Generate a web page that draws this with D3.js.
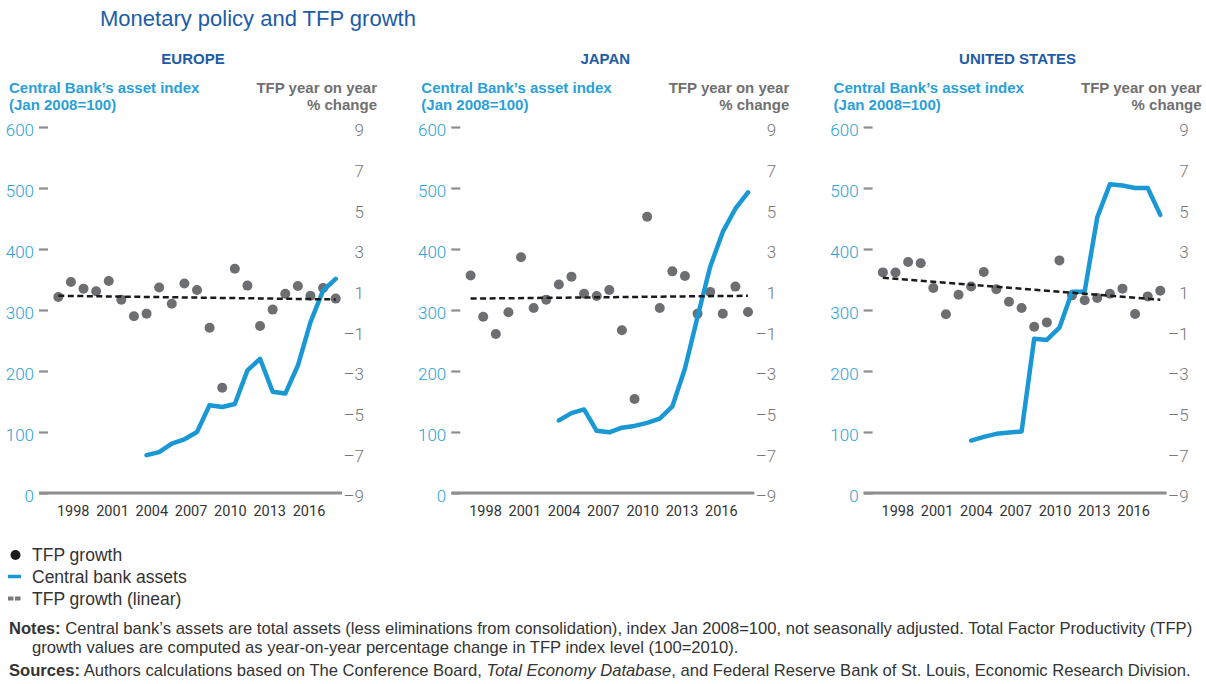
<!DOCTYPE html>
<html>
<head>
<meta charset="utf-8">
<script src="https://cdn.jsdelivr.net/npm/d3@7"></script>
<style>
  body { margin: 0; background: #fff; }
  svg { font-family: "Liberation Sans", Arial, sans-serif; }
</style>
</head>
<body>
<svg id="chart" width="1206" height="684"></svg>
<script>
// ---- data ----
const years = [1996, 1997, 1998, 1999, 2000, 2001, 2002, 2003, 2004, 2005, 2006, 2007,
               2008, 2009, 2010, 2011, 2012, 2013, 2014, 2015, 2016, 2017, 2018];
const assetYears = [2003, 2004, 2005, 2006, 2007, 2008, 2009, 2010,
                    2011, 2012, 2013, 2014, 2015, 2016, 2017, 2018];

const tfpEurope = [0.64, 1.38, 1.05, 0.92, 1.43, 0.51, -0.31, -0.18, 1.11, 0.31, 1.30, 0.98,
                   -0.87, -3.82, 2.03, 1.20, -0.79, 0.02, 0.80, 1.18, 0.70, 1.08, 0.56];
const tfpJapan = [1.70, -0.33, -1.18, -0.11, 2.59, 0.10, 0.51, 1.25, 1.64, 0.80, 0.69, 0.98,
                  -1.00, -4.38, 4.59, 0.10, 1.90, 1.67, -0.18, 0.89, -0.18, 1.15, -0.10];
const tfpUS = [1.85, 1.84, 2.36, 2.30, 1.08, -0.21, 0.75, 1.16, 1.87, 1.02, 0.41, 0.10,
               -0.82, -0.61, 2.44, 0.72, 0.48, 0.59, 0.80, 1.05, -0.20, 0.67, 0.95];

const assetsEurope = [62, 67, 81, 88, 100, 144, 141, 146, 201, 220, 166, 163, 209, 280, 332, 351];
const assetsJapan = [119, 131, 137, 102, 99.5, 107, 110, 115, 122, 142, 204, 289, 371, 428, 466, 493];
const assetsUS = [86, 92, 97, 99, 101, 253, 251, 271, 330, 330, 452, 506, 504, 500, 500, 456];

// linear trend, value at first and last year
const trendEurope = [0.70, 0.52];
const trendJapan = [0.56, 0.70];
const trendUS = [1.59, 0.51];

const regions = ['EUROPE', 'JAPAN', 'UNITED STATES'];
const leftTicks = [0, 100, 200, 300, 400, 500, 600];
const rightTicks = [-9, -7, -5, -3, -1, 1, 3, 5, 7, 9];
const yearTicks = [1998, 2001, 2004, 2007, 2010, 2013, 2016];

const panels = [
  { name: regions[0], tfp: tfpEurope, assets: assetsEurope, trend: trendEurope },
  { name: regions[1], tfp: tfpJapan, assets: assetsJapan, trend: trendJapan },
  { name: regions[2], tfp: tfpUS, assets: assetsUS, trend: trendUS }
];

// ---- colours ----
const darkBlue = '#1c5ca6';
const lightBlue = '#2a9fd8';
const lineBlue = '#1a98d4';
const dotGrey = '#6d6e71';
const axisGrey = '#8e8e8e';

const svg = d3.select('#chart');

// ---- scales (shared by all panels, each panel is translated) ----
const x = d3.scaleLinear().domain([1996, 2018]).range([58.3, 335.7]);
const xLabel = d3.scaleLinear().domain([1998, 2016]).range([72.7, 308.5]);
const yLeft = d3.scaleLinear().domain([0, 600]).range([493, 127]);
const yRight = d3.scaleLinear().domain([-9, 9]).range([493, 127]);
const panelX = d3.scalePoint().domain(regions).range([0, 824.6]);

svg.append('text')
  .attr('x', 100).attr('y', 26)
  .style('font-size', '22px')
  .style('fill', darkBlue)
  .text('Monetary policy and TFP growth');

panels.forEach(function (p) {
  let g = svg.append('g').attr('transform', 'translate(' + panelX(p.name) + ',0)');

  g.append('text')
    .attr('x', 193).attr('y', 64)
    .attr('text-anchor', 'middle')
    .style('font-size', '15px').style('font-weight', 'bold')
    .style('fill', darkBlue)
    .text(p.name);

  // axis titles
  let lt = g.append('text').style('font-size', '15px').style('font-weight', 'bold')
    .style('fill', lightBlue);
  lt.append('tspan').attr('x', 9).attr('y', 93).text('Central Bank\u2019s asset index');
  lt.append('tspan').attr('x', 9).attr('y', 110).text('(Jan 2008=100)');

  let rt = g.append('text').style('font-size', '15px').style('font-weight', 'bold')
    .style('fill', '#707070').attr('text-anchor', 'end');
  rt.append('tspan').attr('x', 377).attr('y', 93).text('TFP year on year');
  rt.append('tspan').attr('x', 377).attr('y', 110).text('% change');

  // left axis
  let la = g.append('g').attr('transform', 'translate(48,0)')
    .call(d3.axisLeft(yLeft).tickValues(leftTicks).tickSize(9).tickPadding(5));
  la.select('.domain').remove();
  la.selectAll('line').attr('stroke', axisGrey).attr('stroke-width', 2.2);
  la.selectAll('text').attr('dy', '0.52em').attr('fill', lightBlue)
    .style('font-family', 'Roboto, "Liberation Sans", sans-serif')
    .style('font-weight', 300).style('font-size', '17px');

  // right axis (labels only)
  let ra = g.append('g').attr('transform', 'translate(364,0)')
    .call(d3.axisRight(yRight).tickValues(rightTicks).tickSize(0).tickPadding(0)
      .tickFormat(d => d < 0 ? '\u2013' + Math.abs(d) : d));
  ra.select('.domain').remove();
  ra.selectAll('text').attr('dy', '0.52em').attr('text-anchor', 'end').attr('fill', '#777')
    .style('font-family', 'Roboto, "Liberation Sans", sans-serif')
    .style('font-weight', 300).style('font-size', '17px');

  // baseline
  g.append('line')
    .attr('x1', 39).attr('x2', 342)
    .attr('y1', yLeft(0)).attr('y2', yLeft(0))
    .attr('stroke', axisGrey).attr('stroke-width', 3);

  // year labels
  let xa = g.append('g').attr('transform', 'translate(0,' + yLeft(0) + ')')
    .call(d3.axisBottom(xLabel).tickValues(yearTicks).tickSize(0).tickPadding(13)
      .tickFormat(d3.format('d')));
  xa.select('.domain').remove();
  xa.selectAll('text').attr('fill', '#333')
    .style('font-family', 'Roboto, "Liberation Sans", sans-serif')
    .style('font-size', '14.5px');

  // TFP dots
  g.append('g').selectAll('circle')
    .data(p.tfp)
    .enter().append('circle')
    .attr('cx', (d, i) => x(years[i]))
    .attr('cy', d => yRight(d))
    .attr('r', 5)
    .attr('fill', dotGrey);

  // central bank assets
  let line = d3.line()
    .x((d, i) => x(assetYears[i]))
    .y(d => yLeft(d));
  g.append('path')
    .datum(p.assets)
    .attr('d', line)
    .attr('fill', 'none')
    .attr('stroke', lineBlue)
    .attr('stroke-width', 4.5)
    .attr('stroke-linejoin', 'round')
    .attr('stroke-linecap', 'round');

  // linear trend
  let trendLine = d3.line()
    .x((d, i) => x(i === 0 ? years[0] : years[years.length - 1]))
    .y(d => yRight(d));
  g.append('path')
    .datum(p.trend)
    .attr('d', trendLine)
    .attr('fill', 'none')
    .attr('stroke', '#1a1a1a')
    .attr('stroke-width', 2.5)
    .attr('stroke-dasharray', '6,3.5');
});

// ---- legend ----
let legend = svg.append('g');
legend.append('circle').attr('cx', 15.5).attr('cy', 555).attr('r', 5).attr('fill', '#1a1a1a');
legend.append('line').attr('x1', 8).attr('x2', 21).attr('y1', 576.5).attr('y2', 576.5)
  .attr('stroke', lineBlue).attr('stroke-width', 3.5);
legend.append('line').attr('x1', 8).attr('x2', 21).attr('y1', 598.5).attr('y2', 598.5)
  .attr('stroke', '#777').attr('stroke-width', 4).attr('stroke-dasharray', '5.5,1.5');
const legendLabels = ['TFP growth', 'Central bank assets', 'TFP growth (linear)'];
legend.selectAll('text.lg')
  .data(legendLabels)
  .enter().append('text')
  .attr('class', 'lg')
  .attr('x', 32)
  .attr('y', (d, i) => 561 + i * 22)
  .style('font-size', '17.5px')
  .style('fill', '#333')
  .text(d => d);

// ---- notes ----
let notes = svg.append('g').style('font-size', '16.6px').style('fill', '#333');
let n1 = notes.append('text').attr('x', 9).attr('y', 633.5);
n1.append('tspan').style('font-weight', 'bold').text('Notes:');
n1.append('tspan').text(' Central bank\u2019s assets are total assets (less eliminations from consolidation), index Jan 2008=100, not seasonally adjusted. Total Factor Productivity (TFP)');
notes.append('text').attr('x', 32).attr('y', 652.5)
  .text('growth values are computed as year-on-year percentage change in TFP index level (100=2010).');
let s1 = notes.append('text').attr('x', 9).attr('y', 676);
s1.append('tspan').style('font-weight', 'bold').text('Sources:');
s1.append('tspan').text(' Authors calculations based on The Conference Board, ');
s1.append('tspan').style('font-style', 'italic').text('Total Economy Database');
s1.append('tspan').text(', and Federal Reserve Bank of St. Louis, Economic Research Division.');
</script>
</body>
</html>
